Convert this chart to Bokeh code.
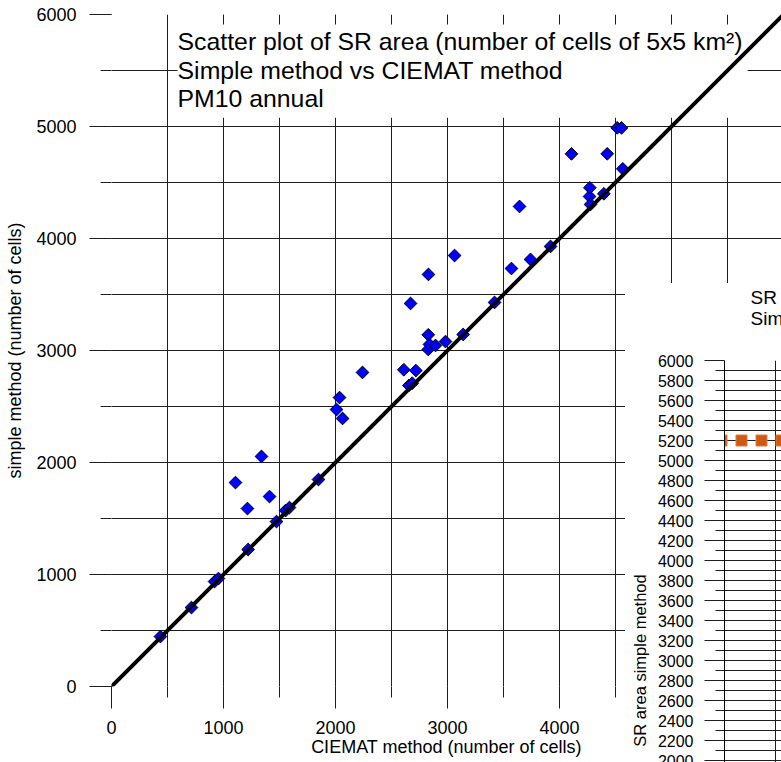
import numpy as np
from bokeh.plotting import figure
from bokeh.models import Range1d, SingleIntervalTicker, FixedTicker, Label, Title, GlobalInlineStyleSheet
from bokeh.embed import file_html
from bokeh.resources import INLINE

# ---- data: SR area (number of cells), CIEMAT method vs simple method ----
ciemat = [437, 714, 920, 955, 1107, 1214, 1220, 1339, 1411, 1473, 1554, 1589,
          1848, 2009, 2036, 2063, 2241, 2610, 2655, 2685, 2670, 2717, 2828, 2828,
          2839, 2893, 2830, 2982, 3063, 3140, 3420, 3571, 3643, 3741, 3920, 4107,
          4268, 4271, 4277, 4396, 4426, 4515, 4554, 4565]
simple = [446, 705, 937, 964, 1821, 1589, 1223, 2054, 1696, 1473, 1571, 1598,
          1848, 2473, 2580, 2393, 2804, 2828, 2688, 2708, 3420, 2821, 3140, 3009,
          3054, 3045, 3679, 3080, 3848, 3143, 3429, 3732, 4286, 3813, 3929, 4756,
          4375, 4453, 4304, 4399, 4756, 4988, 4988, 4622]
diag_x = [0, 6000]
diag_y = [0, 6000]

# inset (partially visible): SR area, simple method
inset_idx = [1, 2, 3, 4]
inset_vals = [5200, 5200, 5200, 5200]
inset_major_ticks = [2000, 2200, 2400, 2600, 2800, 3000, 3200, 3400, 3600, 3800, 4000,
                     4200, 4400, 4600, 4800, 5000, 5200, 5400, 5600, 5800, 6000]
inset_minor_ticks = [1900, 2100, 2300, 2500, 2700, 2900, 3100, 3300, 3500, 3700, 3900,
                     4100, 4300, 4500, 4700, 4900, 5100, 5300, 5500, 5700, 5900]

title_lines = ["Scatter plot of SR area (number of cells of 5x5 km\u00b2)",
               "Simple method vs CIEMAT method",
               "PM10 annual"]
inset_title_lines = ["SR area", "Simple method"]
x_title = "CIEMAT method (number of cells)"
y_title = "simple method (number of cells)"
inset_y_title = "SR area simple method"

FONT = "Liberation Sans"
GRID = "#1e1e1e"

# ---------------- main scatter ----------------
p = figure(width=781, height=762, x_range=Range1d(0, 5982), y_range=Range1d(0, 6000),
           output_backend="svg", toolbar_location=None, title=None,
           min_border_left=111, min_border_right=0, min_border_top=14, min_border_bottom=76,
           outline_line_color=None, background_fill_color="white", border_fill_color="white")
p.stylesheets = [GlobalInlineStyleSheet(css="html, body { overflow: hidden !important; }")]

tk = SingleIntervalTicker(interval=1000, num_minor_ticks=2)
for ax in (p.xaxis, p.yaxis):
    ax.ticker = tk
    ax.axis_line_color = None
    ax.major_tick_line_color = GRID
    ax.minor_tick_line_color = GRID
    ax.major_tick_in = 0
    ax.minor_tick_in = 0
    ax.major_tick_out = 22
    ax.minor_tick_out = 11
    ax.major_label_text_font = FONT
    ax.major_label_text_font_size = "18px"
    ax.major_label_text_color = "black"
    ax.axis_label_text_font = FONT
    ax.axis_label_text_font_size = "18px"
    ax.axis_label_text_font_style = "normal"
    ax.axis_label_text_color = "black"
p.xaxis.major_label_standoff = 12
p.yaxis.major_label_standoff = 13
p.xaxis.axis_label = x_title
p.yaxis.axis_label = y_title
p.xaxis.axis_label_standoff = 0
p.yaxis.axis_label_standoff = 8
for g in (p.xgrid, p.ygrid):
    g.ticker = tk
    g.grid_line_color = GRID
    g.minor_grid_line_color = GRID
    g.grid_line_width = 1
    g.minor_grid_line_width = 1

title = Label(x=590, y=5911, text="\n".join(title_lines), text_align="left", text_baseline="top",
              text_font=FONT, text_font_size="24.8px", text_line_height=1.04, text_color="black",
              background_fill_color="white", padding=(0, 5, 4, 6), level="underlay")
p.add_layout(title)

p.scatter(ciemat, simple, marker="square", angle=np.pi / 4, size=9,
          fill_color="#0000ff", line_color="black", line_width=1)
p.line(diag_x, diag_y, line_width=4, line_color="black")

# ---------------- inset (overlapping, cut by the window) ----------------
inset = figure(width=156, height=717, x_range=Range1d(1.15, 4.0), y_range=Range1d(0, 6000),
               output_backend="svg", toolbar_location=None, x_axis_location=None,
               min_border_left=99, min_border_right=0, min_border_top=117, min_border_bottom=0,
               outline_line_color=None, background_fill_color="white", border_fill_color=None,
               styles={"position": "absolute", "left": "625px", "top": "243px",
                       "background": "linear-gradient(to bottom, rgba(255,255,255,0) 40px, #ffffff 40px)"})
inset.title = Title(text="\n".join(inset_title_lines), align="left", offset=26, standoff=64,
                    vertical_align="bottom", text_font=FONT, text_font_size="19px",
                    text_font_style="normal", text_line_height=1.0, text_color="black")
itk = FixedTicker(ticks=inset_major_ticks, minor_ticks=inset_minor_ticks)
ya = inset.yaxis
ya.ticker = itk
ya.axis_line_color = "black"
ya.major_tick_line_color = GRID
ya.minor_tick_line_color = GRID
ya.major_tick_in = 0
ya.minor_tick_in = 0
ya.major_tick_out = 20
ya.minor_tick_out = 9
ya.major_label_standoff = 11
ya.major_label_text_font = FONT
ya.major_label_text_font_size = "16px"
ya.major_label_text_color = "black"
ya.axis_label = inset_y_title
ya.axis_label_standoff = 6
ya.axis_label_text_font = FONT
ya.axis_label_text_font_size = "16.5px"
ya.axis_label_text_font_style = "normal"
ya.axis_label_text_color = "black"
inset.ygrid.ticker = itk
inset.ygrid.grid_line_color = GRID
inset.ygrid.minor_grid_line_color = GRID
inset.xgrid.ticker = FixedTicker(ticks=[3.7])
inset.xgrid.grid_line_color = GRID

inset.scatter(inset_idx, inset_vals, marker="square", size=11,
              fill_color="#cc5a14", line_color="#e07a3c", line_width=1)

open("out.html", "w").write(file_html([p, inset], INLINE))
